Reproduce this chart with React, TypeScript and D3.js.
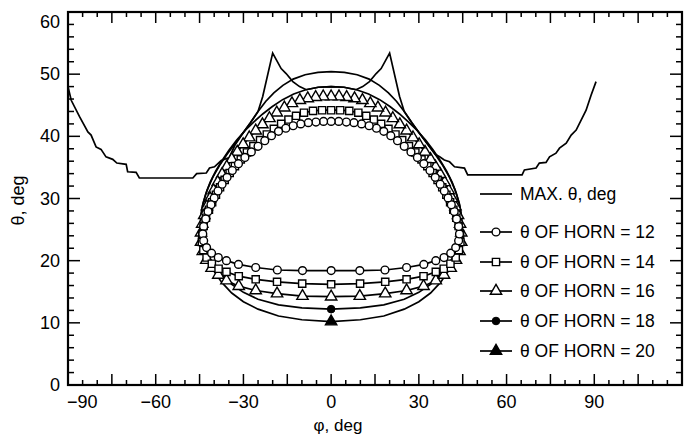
import React from "react";
import * as d3 from "d3";

type P = [number, number];

const phiTicks = [-90, -60, -30, 0, 30, 60, 90];
const thetaTicks = [0, 10, 20, 30, 40, 50, 60];
const legendLabels = [
  "MAX. θ, deg",
  "θ OF HORN = 12",
  "θ OF HORN = 14",
  "θ OF HORN = 16",
  "θ OF HORN = 18",
  "θ OF HORN = 20",
];

const maxTheta: P[] = [
  [-90, 48.0], [-88.9, 45.8], [-86.1, 43.2], [-83.2, 40.7], [-82.1, 40.2], [-80.4, 38.3], [-78.7, 37.9],
  [-77.0, 36.7], [-74.7, 36.3], [-73.3, 35.7], [-70.1, 35.5], [-69.6, 34.3], [-66.7, 34.2], [-65.6, 33.3],
  [-47.3, 33.3], [-46.0, 34.0], [-42.7, 34.1], [-41.6, 34.9], [-39.9, 35.1], [-37.6, 36.1], [-34.8, 36.6],
  [-32.9, 38.6], [-30.2, 40.5], [-27.6, 42.2], [-25.0, 44.0], [-23.4, 46.4], [-20.0, 53.4], [-17.1, 50.9],
  [-15.4, 50.1], [-13.1, 48.8], [-10.8, 48.0], [-8.5, 47.5], [-4.4, 47.9], [0, 48.0], [4.4, 47.9], [8.5, 47.5],
  [10.8, 48.0], [13.1, 48.8], [15.4, 50.1], [17.1, 50.9], [20.0, 53.4], [23.4, 46.4], [25.0, 44.0], [27.6, 42.2],
  [30.2, 40.5], [32.9, 38.8], [35.6, 37.1], [37.1, 36.7], [38.7, 36.2], [40.5, 35.9], [42.2, 35.1], [45.6, 34.9],
  [46.7, 33.8], [65.3, 33.8], [66.1, 34.6], [70.1, 34.9], [71.2, 35.7], [73.5, 35.8], [74.7, 36.7], [76.9, 37.3],
  [78.1, 38.1], [80.4, 38.9], [82.1, 40.2], [83.8, 41.0], [85.5, 42.6], [87.2, 44.2], [88.9, 46.6], [90.6, 48.8],
];

const horn12: P[] = [
  [0, 18.4], [9.8, 18.4], [18.4, 18.5], [25.8, 18.9], [31.7, 19.4], [35.8, 20.0], [38.6, 20.5], [40.9, 21.2],
  [42.6, 22.1], [43.6, 23.2], [43.9, 24.3], [43.6, 25.5], [42.9, 26.7], [42.1, 27.9], [41.1, 29.0], [40.0, 30.1],
  [38.7, 31.2], [37.3, 32.3], [35.6, 33.4], [33.8, 34.5], [31.7, 35.6], [29.5, 36.6], [27.3, 37.5], [25.0, 38.4],
  [22.7, 39.3], [20.4, 40.1], [18.0, 40.8], [15.5, 41.3], [13.0, 41.7], [10.4, 42.0], [7.8, 42.2], [5.2, 42.3],
  [2.6, 42.4], [0, 42.4], [-2.6, 42.4], [-5.2, 42.3], [-7.8, 42.2], [-10.4, 42.0], [-13.0, 41.7], [-15.5, 41.3],
  [-18.0, 40.8], [-20.4, 40.1], [-22.7, 39.3], [-25.0, 38.4], [-27.3, 37.5], [-29.5, 36.6], [-31.7, 35.6],
  [-33.8, 34.5], [-35.6, 33.4], [-37.3, 32.3], [-38.7, 31.2], [-40.0, 30.1], [-41.1, 29.0], [-42.1, 27.9],
  [-42.9, 26.7], [-43.6, 25.5], [-43.9, 24.3], [-43.6, 23.2], [-42.6, 22.1], [-40.9, 21.2], [-38.6, 20.5],
  [-35.8, 20.0], [-31.7, 19.4], [-25.8, 18.9], [-18.4, 18.5], [-9.8, 18.4],
];

const horn14: P[] = [
  [0, 16.2], [9.9, 16.3], [18.5, 16.6], [25.8, 17.0], [31.6, 17.5], [35.8, 18.2], [38.5, 18.7], [40.8, 19.5],
  [42.6, 20.5], [43.7, 21.7], [44.2, 23.0], [44.1, 24.3], [43.6, 25.6], [42.8, 26.9], [41.8, 28.2], [40.7, 29.4],
  [39.4, 30.6], [38.0, 31.8], [36.4, 33.0], [34.7, 34.1], [32.9, 35.2], [30.9, 36.3], [28.8, 37.4], [26.6, 38.4],
  [24.3, 39.4], [22.0, 40.3], [19.6, 41.2], [17.1, 42.0], [14.6, 42.7], [12.0, 43.3], [9.3, 43.8], [6.2, 44.1],
  [3.1, 44.2], [0, 44.2], [-3.1, 44.2], [-6.2, 44.1], [-9.3, 43.8], [-12.0, 43.3], [-14.6, 42.7], [-17.1, 42.0],
  [-19.6, 41.2], [-22.0, 40.3], [-24.3, 39.4], [-26.6, 38.4], [-28.8, 37.4], [-30.9, 36.3], [-32.9, 35.2],
  [-34.7, 34.1], [-36.4, 33.0], [-38.0, 31.8], [-39.4, 30.6], [-40.7, 29.4], [-41.8, 28.2], [-42.8, 26.9],
  [-43.6, 25.6], [-44.1, 24.3], [-44.2, 23.0], [-43.7, 21.7], [-42.6, 20.5], [-40.8, 19.5], [-38.5, 18.7],
  [-35.8, 18.2], [-31.6, 17.5], [-25.8, 17.0], [-18.5, 16.6], [-9.9, 16.3],
];

const horn16: P[] = [
  [0, 14.2], [9.8, 14.3], [18.5, 14.7], [25.8, 15.2], [31.6, 15.9], [35.8, 16.8], [38.6, 17.7], [40.9, 18.8],
  [42.7, 20.1], [43.9, 21.5], [44.5, 23.0], [44.5, 24.5], [44.1, 25.9], [43.4, 27.3], [42.5, 28.7], [41.4, 30.0],
  [40.2, 31.3], [38.8, 32.6], [37.3, 33.9], [35.7, 35.1], [34.0, 36.3], [32.1, 37.5], [30.1, 38.7], [28.0, 39.8],
  [25.8, 40.9], [23.5, 41.9], [21.1, 42.9], [18.6, 43.8], [16.0, 44.6], [13.4, 45.3], [10.7, 45.8], [8.0, 46.1],
  [5.3, 46.3], [2.7, 46.4], [0, 46.4], [-2.7, 46.4], [-5.3, 46.3], [-8.0, 46.1], [-10.7, 45.8], [-13.4, 45.3],
  [-16.0, 44.6], [-18.6, 43.8], [-21.1, 42.9], [-23.5, 41.9], [-25.8, 40.9], [-28.0, 39.8], [-30.1, 38.7],
  [-32.1, 37.5], [-34.0, 36.3], [-35.7, 35.1], [-37.3, 33.9], [-38.8, 32.6], [-40.2, 31.3], [-41.4, 30.0],
  [-42.5, 28.7], [-43.4, 27.3], [-44.1, 25.9], [-44.5, 24.5], [-44.5, 23.0], [-43.9, 21.5], [-42.7, 20.1],
  [-40.9, 18.8], [-38.6, 17.7], [-35.8, 16.8], [-31.6, 15.9], [-25.8, 15.2], [-18.5, 14.7], [-9.8, 14.3],
];

const horn18: P[] = [
  [0, 12.2], [10, 12.4], [18, 12.9], [25, 13.8], [30, 14.9], [34, 16.2], [37.3, 17.7], [40, 19.3], [42.2, 21.0],
  [43.7, 22.9], [44.5, 24.9], [44.6, 26.9], [44.0, 28.8], [42.9, 30.7], [41.4, 32.6], [39.5, 34.4], [37.3, 36.1],
  [34.9, 37.8], [32.3, 39.4], [29.5, 40.9], [26.5, 42.3], [23.4, 43.6], [20.1, 44.8], [16.6, 45.9], [12.8, 46.8],
  [8.7, 47.5], [4.4, 47.9], [0, 48.0], [-4.4, 47.9], [-8.7, 47.5], [-12.8, 46.8], [-16.6, 45.9], [-20.1, 44.8],
  [-23.4, 43.6], [-26.5, 42.3], [-29.5, 40.9], [-32.3, 39.4], [-34.9, 37.8], [-37.3, 36.1], [-39.5, 34.4],
  [-41.4, 32.6], [-42.9, 30.7], [-44.0, 28.8], [-44.6, 26.9], [-44.5, 24.9], [-43.7, 22.9], [-42.2, 21.0],
  [-40, 19.3], [-37.3, 17.7], [-34, 16.2], [-30, 14.9], [-25, 13.8], [-18, 12.9], [-10, 12.4],
];

const horn20: P[] = [
  [0, 10.2], [10, 10.5], [18, 11.1], [25, 12.2], [30, 13.4], [34, 14.8], [37.4, 16.5], [40.2, 18.4], [42.4, 20.5],
  [43.9, 22.7], [44.7, 25.0], [44.6, 27.2], [43.8, 29.3], [42.4, 31.4], [40.5, 33.4], [38.2, 35.3], [35.6, 37.1],
  [32.9, 38.8], [30.2, 40.5], [27.6, 42.2], [25.0, 44.0], [22.4, 45.6], [19.6, 47.0], [16.5, 48.2], [13.0, 49.2],
  [8.9, 49.9], [4.5, 50.3], [0, 50.4], [-4.5, 50.3], [-8.9, 49.9], [-13.0, 49.2], [-16.5, 48.2], [-19.6, 47.0],
  [-22.4, 45.6], [-25.0, 44.0], [-27.6, 42.2], [-30.2, 40.5], [-32.9, 38.8], [-35.6, 37.1], [-38.2, 35.3],
  [-40.5, 33.4], [-42.4, 31.4], [-43.8, 29.3], [-44.6, 27.2], [-44.7, 25.0], [-43.9, 22.7], [-42.4, 20.5],
  [-40.2, 18.4], [-37.4, 16.5], [-34, 14.8], [-30, 13.4], [-25, 12.2], [-18, 11.1], [-10, 10.5],
];

const FONT = "'Liberation Sans', Arial, Helvetica, sans-serif";
const W = 692;
const H = 437;
const M = { left: 68, right: 682, top: 12, bottom: 385 };

type MarkerKind = "none" | "circle" | "square" | "triangle" | "dot" | "filledTriangle";

function Marker({ kind, cx, cy }: { kind: MarkerKind; cx: number; cy: number }) {
  if (kind === "none") return null;
  if (kind === "circle")
    return <circle cx={cx} cy={cy} r={3.9} fill="#fff" stroke="#000" strokeWidth={1.4} />;
  if (kind === "dot") return <circle cx={cx} cy={cy} r={3.8} fill="#000" stroke="#000" strokeWidth={1} />;
  const sym =
    kind === "square"
      ? d3.symbol(d3.symbolSquare, 52)
      : d3.symbol(d3.symbolTriangle, 56);
  const fill = kind === "filledTriangle" ? "#000" : "#fff";
  return (
    <path
      d={sym() as string}
      transform={`translate(${cx},${cy})`}
      fill={fill}
      stroke="#000"
      strokeWidth={1.4}
    />
  );
}

export default function App() {
  const x = d3.scaleLinear().domain([-90, 120]).range([M.left, M.right]);
  const y = d3.scaleLinear().domain([0, 60]).range([M.bottom, M.top]);

  const closed = d3
    .line<P>()
    .x((d) => x(d[0]))
    .y((d) => y(d[1]))
    .curve(d3.curveLinearClosed);
  const open = d3
    .line<P>()
    .x((d) => x(d[0]))
    .y((d) => y(d[1]));

  const horns: { data: P[]; kind: MarkerKind; all: boolean }[] = [
    { data: horn20, kind: "filledTriangle", all: false },
    { data: horn18, kind: "dot", all: false },
    { data: horn16, kind: "triangle", all: true },
    { data: horn14, kind: "square", all: true },
    { data: horn12, kind: "circle", all: true },
  ];

  const xMinor = d3.range(-90, 121, 5);
  const yMinor = d3.range(0, 61, 2);

  const legendKinds: MarkerKind[] = ["none", "circle", "square", "triangle", "dot", "filledTriangle"];
  const legendY = [194, 232, 262, 291, 321, 351];

  return (
    <svg
      width={W}
      height={H}
      style={{ position: "absolute", left: 0, top: 0, background: "#fff" }}
      fontFamily={FONT}
    >
      <rect x={0} y={0} width={W} height={H} fill="#fff" />
      {/* ticks */}
      <g stroke="#000" strokeWidth={1.5}>
        {xMinor.map((t) => {
          const major = t % 15 === 0;
          const len = major ? 11 : 5;
          return (
            <g key={"xt" + t}>
              <line x1={x(t)} x2={x(t)} y1={M.bottom} y2={M.bottom - len} />
              <line x1={x(t)} x2={x(t)} y1={M.top} y2={M.top + len} />
            </g>
          );
        })}
        {yMinor.map((t) => {
          const major = t % 10 === 0;
          const len = major ? 12 : 6;
          return (
            <g key={"yt" + t}>
              <line x1={M.left} x2={M.left + len} y1={y(t)} y2={y(t)} />
              <line x1={M.right} x2={M.right - len} y1={y(t)} y2={y(t)} />
            </g>
          );
        })}
      </g>
      {/* frame */}
      <rect
        x={M.left}
        y={M.top}
        width={M.right - M.left}
        height={M.bottom - M.top}
        fill="none"
        stroke="#000"
        strokeWidth={2.2}
      />
      {/* tick labels */}
      <g fontSize={18} fill="#000">
        {phiTicks.map((t, i) => (
          <text
            key={"xl" + t}
            x={i === 0 ? x(t) - 1 : x(t)}
            y={M.bottom + 23}
            textAnchor={i === 0 ? "start" : "middle"}
          >
            {t < 0 ? "\u2212" + Math.abs(t) : String(t)}
          </text>
        ))}
        {thetaTicks.map((t) => (
          <text
            key={"yl" + t}
            x={M.left - 8}
            y={Math.max(y(t), M.top + 10) + 6}
            textAnchor="end"
          >
            {t}
          </text>
        ))}
      </g>
      {/* axis titles */}
      <text x={338} y={431} fontSize={17} textAnchor="middle">
        φ, deg
      </text>
      <text
        transform={`translate(24,${(M.top + M.bottom) / 2 + 2}) rotate(-90)`}
        fontSize={18}
        textAnchor="middle"
      >
        θ, deg
      </text>
      {/* MAX curve */}
      <path d={open(maxTheta) as string} fill="none" stroke="#000" strokeWidth={1.7} />
      {/* horn loops */}
      {horns.map((h, i) => (
        <path key={"hl" + i} d={closed(h.data) as string} fill="none" stroke="#000" strokeWidth={1.7} />
      ))}
      {horns.map((h, i) =>
        (h.all ? h.data : h.data.slice(0, 1)).map((d, j) => (
          <Marker key={"m" + i + "_" + j} kind={h.kind} cx={x(d[0])} cy={y(d[1])} />
        ))
      )}
      {/* legend */}
      {legendLabels.map((lab, i) => (
        <g key={"lg" + i}>
          <line x1={480} x2={512} y1={legendY[i]} y2={legendY[i]} stroke="#000" strokeWidth={1.7} />
          <Marker kind={legendKinds[i]} cx={496} cy={legendY[i]} />
          <text x={520} y={legendY[i] + 6} fontSize={17.5} fill="#000">
            {lab}
          </text>
        </g>
      ))}
    </svg>
  );
}
